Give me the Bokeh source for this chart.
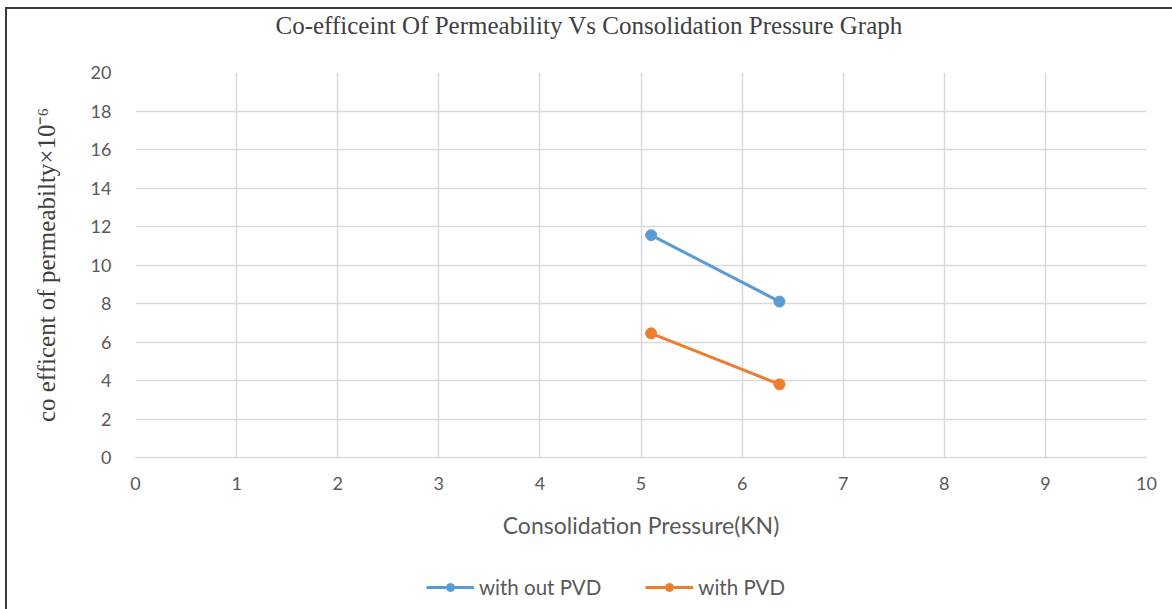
from bokeh.plotting import figure
from bokeh.layouts import column
from bokeh.models import Range1d, FixedTicker, Legend, LegendItem, Title
from bokeh.embed import file_html
from bokeh.resources import INLINE

# Data
pressure = [5.1, 6.37]
without_pvd = [11.55, 8.1]
with_pvd = [6.45, 3.8]
x_ticks = list(range(0, 11))
y_ticks = list(range(0, 21, 2))
series_names = ["with out PVD", "with PVD"]
title_text = "Co-efficeint Of Permeability Vs Consolidation Pressure Graph"

blue = "#5B9BD5"
orange = "#ED7D31"


def blank(fig):
    fig.grid.visible = False
    fig.outline_line_color = None
    fig.background_fill_color = "white"
    fig.border_fill_color = "white"


# Title strip
top = figure(width=1165, height=36, output_backend="svg", toolbar_location=None,
             x_range=Range1d(0, 1), y_range=Range1d(0, 1),
             min_border_left=128, min_border_right=26, min_border_top=0, min_border_bottom=0,
             x_axis_location=None, y_axis_location=None)
blank(top)
top.title = Title(text=title_text, align="left", text_font="Liberation Serif",
                  text_font_size="25px", text_font_style="normal", text_color="#404040",
                  offset=140, standoff=0)

# Main chart
p = figure(width=1165, height=510, output_backend="svg", toolbar_location=None,
           x_range=Range1d(0, 10), y_range=Range1d(0, 20),
           min_border_left=128, min_border_right=26, min_border_top=27, min_border_bottom=98)
p.outline_line_color = None
p.background_fill_color = "white"
p.border_fill_color = "white"

for ax in (p.xaxis[0], p.yaxis[0]):
    ax.major_tick_line_color = None
    ax.minor_tick_line_color = None
    ax.major_label_text_font = "Lato"
    ax.major_label_text_font_size = "18px"
    ax.major_label_text_color = "#595959"

p.xaxis.ticker = FixedTicker(ticks=x_ticks)
p.yaxis.ticker = FixedTicker(ticks=y_ticks)
p.xaxis.axis_line_color = "#d9d9d9"
p.xaxis.axis_line_width = 1.5
p.yaxis.axis_line_color = None
p.xaxis.major_label_standoff = 13
p.yaxis.major_label_standoff = 18

p.xaxis.axis_label = "Consolidation Pressure(KN)"
p.xaxis.axis_label_text_font = "Lato"
p.xaxis.axis_label_text_font_size = "23px"
p.xaxis.axis_label_text_font_style = "normal"
p.xaxis.axis_label_text_color = "#595959"
p.xaxis.axis_label_standoff = 18

p.yaxis.axis_label = "co efficent of permeabilty×10⁻⁶"
p.yaxis.axis_label_text_font = "Liberation Serif"
p.yaxis.axis_label_text_font_size = "25px"
p.yaxis.axis_label_text_font_style = "normal"
p.yaxis.axis_label_text_color = "#404040"
p.yaxis.axis_label_standoff = 28

p.xgrid.ticker = FixedTicker(ticks=x_ticks)
p.ygrid.ticker = FixedTicker(ticks=y_ticks)
p.xgrid.grid_line_color = "#d9d9d9"
p.ygrid.grid_line_color = "#d9d9d9"
p.xgrid.grid_line_width = 1.5
p.ygrid.grid_line_width = 1.5

p.line(pressure, without_pvd, line_color=blue, line_width=3)
p.scatter(pressure, without_pvd, size=11, fill_color=blue, line_color=blue)
p.line(pressure, with_pvd, line_color=orange, line_width=3)
p.scatter(pressure, with_pvd, size=11, fill_color=orange, line_color=orange)

# Legend strip below the chart (same series, drawn outside its view)
leg = figure(width=1165, height=54, output_backend="svg", toolbar_location=None,
             x_range=Range1d(0, 1), y_range=Range1d(0, 1), min_border=0,
             x_axis_location=None, y_axis_location=None)
blank(leg)
k1 = leg.line(pressure, without_pvd, line_color=blue, line_width=3)
s1 = leg.scatter(pressure, without_pvd, size=10, fill_color=blue, line_color=blue)
k2 = leg.line(pressure, with_pvd, line_color=orange, line_width=3)
s2 = leg.scatter(pressure, with_pvd, size=10, fill_color=orange, line_color=orange)

legend = Legend(items=[LegendItem(label=series_names[0], renderers=[k1, s1]),
                       LegendItem(label=series_names[1], renderers=[k2, s2])],
                orientation="horizontal", location=(291, 10),
                label_text_font="Lato", label_text_font_size="20.5px", label_text_color="#595959",
                glyph_width=48, glyph_height=20, spacing=44, label_standoff=5,
                border_line_color=None, background_fill_alpha=0, margin=0, padding=4)
leg.add_layout(legend, "center")

layout = column(top, p, leg, spacing=0)
layout.styles = {"border-left": "2px solid #3a3a3a", "border-top": "2px solid #3a3a3a",
                 "margin-left": "5px", "margin-top": "7px"}

open("out.html", "w").write(file_html(layout, INLINE))
